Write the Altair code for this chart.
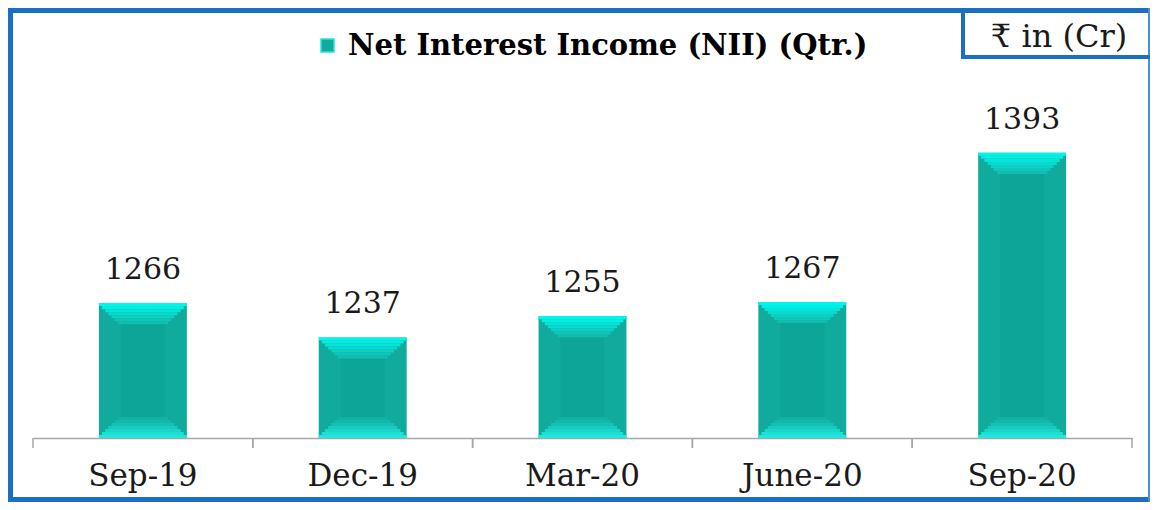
import altair as alt
import pandas as pd

# ---- data ----
quarters = ["Sep-19", "Dec-19", "Mar-20", "June-20", "Sep-20"]
nii = [1266, 1237, 1255, 1267, 1393]
series_name = "Net Interest Income (NII) (Qtr.)"
unit_label = "₹ in (Cr)"

# ---- scale / style settings ----
y_min, y_max = 1152, 1463
W, H = 1099, 368
BLUE = "#1a6ec3"
AXIS_GREY = "#a6a6a6"
BAR_W = 0.4
STEPS = 7
STEP_U = 2.55          # data units per bevel step (~3px)
TOP_COLS = ["#00f6eb", "#03eee3", "#06e4d9", "#09dacf", "#0cd0c4", "#0fc6b9", "#12bcaf"]
BOT_COLS = ["#21e7db", "#1edfd3", "#1bd5c9", "#18cbbf", "#15c1b4", "#13b8aa", "#11b1a3"]

df = pd.DataFrame({"quarter": quarters, "nii": nii, "series": series_name})
one = pd.DataFrame({"t": [unit_label]})

xscale = alt.Scale(domain=quarters, paddingInner=0, paddingOuter=0)
yscale = alt.Scale(domain=[y_min, y_max], zero=False, nice=False)

x_axis = alt.Axis(
    title=None, ticks=False, tickSize=0, grid=False,
    domainColor=AXIS_GREY, domainWidth=1.5,
    labelFont="DejaVu Serif", labelFontSize=31, labelColor="#1a1a1a",
    labelPadding=47, labelBaseline="alphabetic", labelAngle=0,
)


def X(bp=None):
    if bp is None:
        return alt.X("quarter:N", scale=xscale, sort=quarters, axis=x_axis)
    return alt.X("quarter:N", scale=xscale, sort=quarters, axis=x_axis, bandPosition=bp)


def Y(field):
    return alt.Y(field, scale=yscale, axis=None)


base = alt.Chart(df).transform_calculate(b0=f"{y_min}")

body = base.mark_bar(width=alt.RelativeBandSize(BAR_W)).encode(
    x=X(),
    y=Y("nii:Q"),
    y2="b0:Q",
    color=alt.Color(
        "series:N",
        scale=alt.Scale(range=["#10ab9d"]),
        legend=alt.Legend(
            title=None, orient="none", legendX=280, legendY=-39,
            symbolType="square", symbolSize=169,
            symbolStrokeColor="#22e6da", symbolStrokeWidth=1.5,
            labelFont="DejaVu Serif", labelFontWeight="bold",
            labelFontSize=29, labelColor="#000000", labelOffset=6,
            labelLimit=900, padding=0,
        ),
    ),
)

center = base.transform_calculate(
    c1=f"datum.nii - {STEPS * STEP_U}", c2=f"{y_min + STEPS * STEP_U}"
).mark_bar(width=alt.RelativeBandSize(0.2), color="#0da597").encode(
    x=X(), y=Y("c1:Q"), y2="c2:Q"
)

bevels = []
for i in range(STEPS):
    w = BAR_W - (BAR_W - 0.2) * i / STEPS
    top = base.transform_calculate(
        s1=f"datum.nii - {i * STEP_U}", s2=f"datum.nii - {(i + 1) * STEP_U}"
    ).mark_bar(width=alt.RelativeBandSize(w), color=TOP_COLS[i]).encode(
        x=X(), y=Y("s1:Q"), y2="s2:Q"
    )
    bot = base.transform_calculate(
        s1=f"{y_min + i * STEP_U}", s2=f"{y_min + (i + 1) * STEP_U}"
    ).mark_bar(width=alt.RelativeBandSize(w), color=BOT_COLS[i]).encode(
        x=X(), y=Y("s1:Q"), y2="s2:Q"
    )
    bevels += [top, bot]

labels = base.mark_text(
    font="DejaVu Serif", fontSize=30, baseline="alphabetic", dy=-24, color="#1a1a1a"
).encode(x=X(), y=Y("nii:Q"), text="nii:Q")

ticks_l = base.mark_rule(color=AXIS_GREY, strokeWidth=1.5).encode(
    x=X(0), y=alt.value(H), y2=alt.value(H + 10)
)
ticks_r = base.mark_rule(color=AXIS_GREY, strokeWidth=1.5).encode(
    x=X(1), y=alt.value(H), y2=alt.value(H + 10)
)

deco = alt.Chart(one)
border_left = deco.mark_rule(color=BLUE, strokeWidth=5).encode(
    x=alt.value(-22.5), y=alt.value(-62), y2=alt.value(432)
)
border_top = deco.mark_rule(color=BLUE, strokeWidth=5).encode(
    x=alt.value(-25), x2=alt.value(1117), y=alt.value(-59.5)
)
border_bottom = deco.mark_rule(color=BLUE, strokeWidth=5).encode(
    x=alt.value(-25), x2=alt.value(1117), y=alt.value(429.5)
)
border_right = deco.mark_rule(color="#4a8fd6", strokeWidth=2).encode(
    x=alt.value(1116), y=alt.value(-62), y2=alt.value(432)
)
box_left = deco.mark_rule(color=BLUE, strokeWidth=4).encode(
    x=alt.value(930), y=alt.value(-62), y2=alt.value(-11)
)
box_bottom = deco.mark_rule(color=BLUE, strokeWidth=4).encode(
    x=alt.value(928), x2=alt.value(1117), y=alt.value(-13)
)
unit_text = deco.mark_text(
    font="DejaVu Serif", fontSize=32, align="center", baseline="alphabetic", color="#1a1a1a"
).encode(x=alt.value(1026), y=alt.value(-23), text="t:N")

chart = alt.layer(
    body, center, *bevels, labels, ticks_l, ticks_r,
    border_left, border_top, border_bottom, border_right, box_left, box_bottom, unit_text,
).properties(
    width=W, height=H,
    autosize=alt.AutoSizeParams(type="none"),
    padding={"left": 25, "top": 62, "right": 18, "bottom": 64},
    background="white",
).configure_view(stroke=None)

chart.save("out.html", embed_options={"renderer": "svg", "actions": False})
